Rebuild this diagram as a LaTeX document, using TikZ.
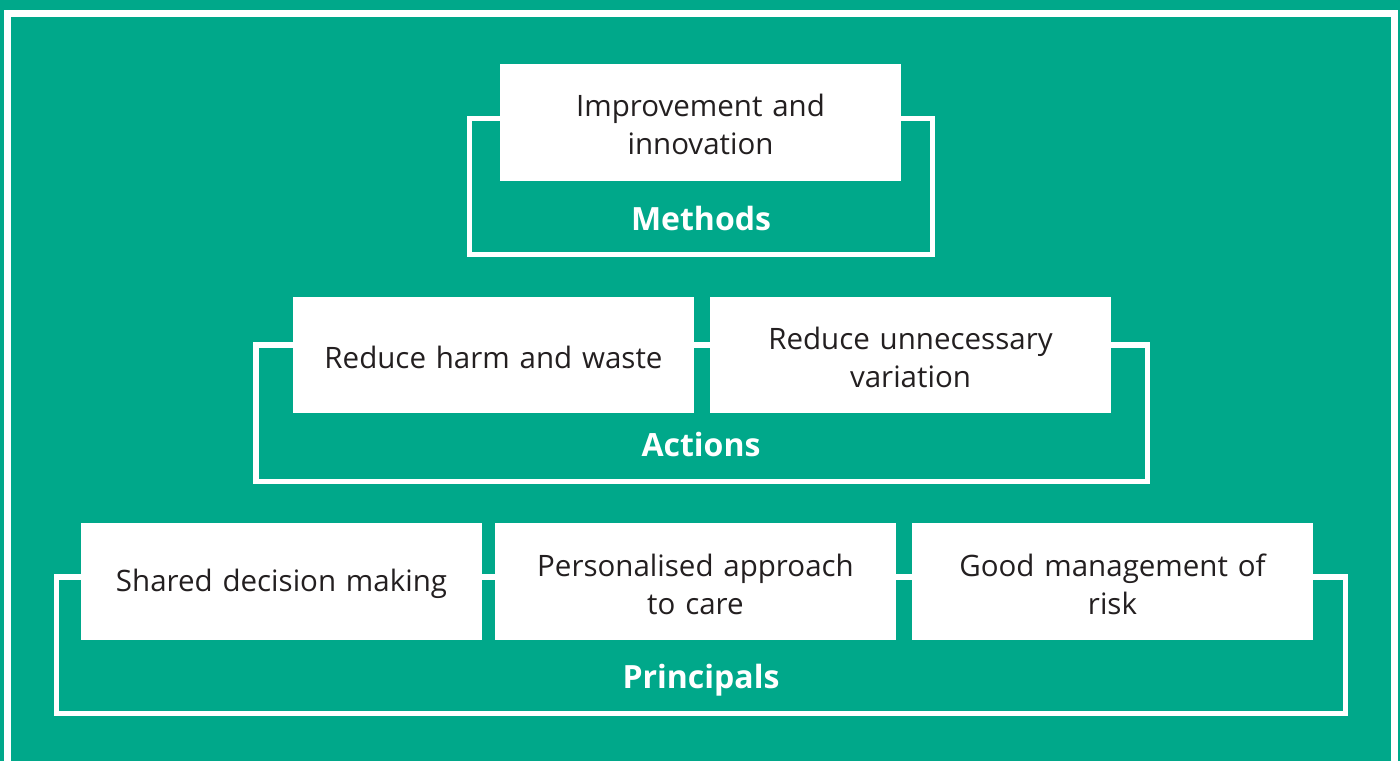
\documentclass[tikz,border=0pt]{standalone}
\usepackage{fontspec}
\setmainfont{Open Sans}
\definecolor{bggreen}{RGB}{0,168,138}
\definecolor{txtgray}{RGB}{35,31,32}
\begin{document}
\begin{tikzpicture}[x=1pt,y=-1pt,
  frame/.style={draw=white,line width=5.5pt,inner sep=0pt,rectangle},
  wbox/.style={fill=white,draw=none,inner sep=0pt,minimum width=401pt,minimum height=117pt},
  wtxt/.style={inner sep=0pt,text width=395pt,align=center,text=txtgray,font=\fontsize{29.5}{38}\selectfont},
  lbl/.style={text=white,font=\fontsize{32}{38}\selectfont\bfseries,inner sep=0pt}]
\fill[bggreen] (0,0) rectangle (1400,761);
\useasboundingbox (0,0) rectangle (1400,761);
\draw[white,line width=7pt] (7,761) -- (7,13) -- (1394.5,13) -- (1394.5,761);
% Methods
\node[frame,minimum width=463pt,minimum height=136pt] (mframe) at (701,186.6) {};
\node[wbox,minimum height=116.7pt] (mbox) at (700.5,122.3) {};
\node[wtxt] (mboxt) at (700.5,124.5) {Improvement and\\innovation};
\node[lbl] (mlbl) at (701,218) {Methods};
% Actions
\node[frame,minimum width=891.5pt,minimum height=136.5pt] (aframe) at (701.7,413.2) {};
\node[wbox,minimum height=116pt] (abox1) at (493.5,355) {};
\node[wtxt] (abox1t) at (493.5,357.5) {Reduce harm and waste};
\node[wbox,minimum height=116pt] (abox2) at (910.5,355) {};
\node[wtxt] (abox2t) at (910.5,357.5) {Reduce unnecessary\\variation};
\node[lbl] (albl) at (701,444) {Actions};
% Principals
\node[frame,minimum width=1288.8pt,minimum height=136.7pt] (pframe) at (700.9,645.3) {};
\node[wbox] (pbox1) at (281.5,581.5) {};
\node[wtxt] (pbox1t) at (281.5,584) {Shared decision making};
\node[wbox] (pbox2) at (695.5,581.5) {};
\node[wtxt] (pbox2t) at (695.5,584) {Personalised approach\\to care};
\node[wbox] (pbox3) at (1112.5,581.5) {};
\node[wtxt] (pbox3t) at (1112.5,584) {Good management of\\risk};
\node[lbl] (plbl) at (701,680) {Principals};
\end{tikzpicture}
\end{document}
